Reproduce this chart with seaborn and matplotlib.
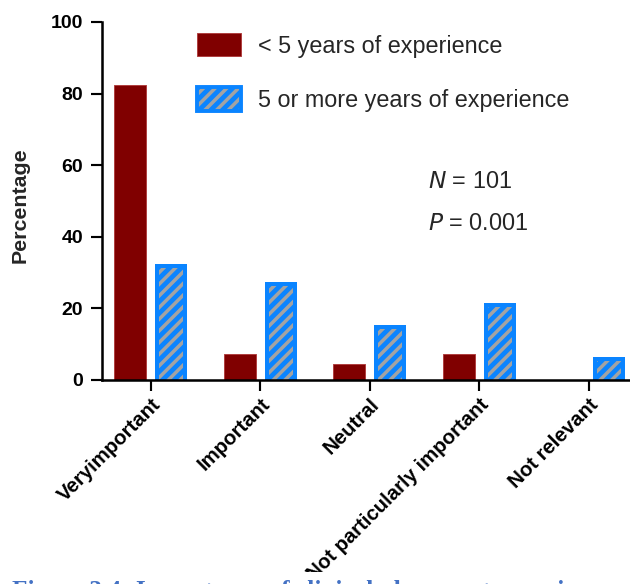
import matplotlib
matplotlib.use("Agg")
import matplotlib.pyplot as plt
from matplotlib.patches import Patch, Rectangle
from matplotlib.legend_handler import HandlerTuple
from matplotlib.transforms import ScaledTranslation
import seaborn as sns
import pandas as pd

categories = ["Veryimportant", "Important", "Neutral",
              "Not particularly important", "Not relevant"]
groups = ["< 5 years of experience", "5 or more years of experience"]
less_than_5 = [82.5, 7.4, 4.5, 7.4, 0.0]
five_or_more = [32.5, 27.5, 15.5, 21.5, 6.5]
y_ticks = [0, 20, 40, 60, 80, 100]

RED = "#800000"
BLUE = "#0A84FF"
GREY = "#A3A3A3"
HATCH = "////"

sns.set_theme(style="ticks")
plt.rcParams["font.family"] = ["Liberation Sans", "DejaVu Sans"]
plt.rcParams["hatch.linewidth"] = 1.8

df = pd.DataFrame({
    "category": categories * 2,
    "group": [groups[0]] * len(categories) + [groups[1]] * len(categories),
    "value": less_than_5 + five_or_more,
})

DPI = 140
fig = plt.figure(figsize=(630 / DPI, 584 / DPI), dpi=DPI)
ax = fig.add_axes([102 / 630, 204 / 584, 1 - 102 / 630, (562 - 204) / 584])

sns.barplot(data=df, x="category", y="value", hue="group",
            order=categories, hue_order=groups,
            palette={groups[0]: RED, groups[1]: BLUE},
            width=0.75, gap=0.22, saturation=1, linewidth=0,
            legend=False, ax=ax)

ax.set_xlim(-0.445, 4.377)
ax.set_ylim(0, 100)

# hatched inner panel for the blue bars, inset from the bar outline
to_data = ax.transData.inverted()
n = len(categories)
for p in ax.patches[:n]:
    p.set_edgecolor("#B04040")
    p.set_linewidth(0.5)
for p in list(ax.patches[n:2 * n]):
    x0, y0 = p.get_x(), p.get_y()
    w, h = p.get_width(), p.get_height()
    if h <= 0:
        continue
    (dx, dy) = to_data.transform((4, 4)) - to_data.transform((0, 0))
    inner = Rectangle((x0 + dx, y0), w - 2 * dx, h - dy,
                      facecolor="none", edgecolor=GREY, linewidth=0,
                      hatch=HATCH, zorder=p.get_zorder() + 0.1)
    ax.add_patch(inner)

ax.set_yticks(y_ticks)
ax.set_yticklabels([str(t) for t in y_ticks], fontweight="bold", fontsize=10)
ax.set_xticks(range(n))
ax.set_xticklabels(categories, fontweight="bold", fontsize=10.5,
                   rotation=45, ha="right", va="top",
                   rotation_mode="anchor")
shift = ScaledTranslation(17 / DPI, 4 / DPI, fig.dpi_scale_trans)
for lab in ax.get_xticklabels():
    lab.set_transform(lab.get_transform() + shift)
ax.set_xlabel("")
ax.set_ylabel("Percentage", fontweight="bold", fontsize=11)
ax.yaxis.set_label_coords(20 / 630, (584 - 205) / 584, transform=fig.transFigure)
ax.yaxis.label.set_va("center")

for side in ("top", "right"):
    ax.spines[side].set_visible(False)
for side in ("left", "bottom"):
    ax.spines[side].set_linewidth(1.3)
    ax.spines[side].set_color("black")
ax.tick_params(axis="both", direction="out", length=5.6, width=1.1,
               color="black", labelcolor="black")
ax.tick_params(axis="y", pad=4)
ax.tick_params(axis="x", pad=2)

# legend
h_red = Patch(facecolor=RED, edgecolor="#B04040", linewidth=0.5)
h_blue = (Patch(facecolor=BLUE, edgecolor=BLUE, linewidth=0),
          Patch(facecolor="none", edgecolor=GREY, linewidth=0, hatch=HATCH),
          Patch(facecolor="none", edgecolor=BLUE, linewidth=2.0))
fig.legend([h_red, h_blue], groups,
           handler_map={tuple: HandlerTuple(ndivide=1, pad=0)},
           loc="upper left", bbox_to_anchor=(197 / 630, 551 / 584),
           bbox_transform=fig.transFigure, frameon=False,
           prop={"size": 12}, handlelength=1.89, handleheight=1.16,
           handletextpad=0.73, labelspacing=1.28, borderpad=0,
           borderaxespad=0)

# statistics
ax.text(428, 584 - 182, r"$\mathit{N}$ = 101", transform=None,
        fontsize=12, va="center", ha="left")
ax.text(428, 584 - 223, r"$\mathit{P}$ = 0.001", transform=None,
        fontsize=12, va="center", ha="left")

# caption strip
fig.patches.append(Rectangle((0, 0), 1, 12 / 584, transform=fig.transFigure,
                             facecolor="white", edgecolor="none", zorder=10))
fig.text(12 / 630, 4 / 584, "Figure 3.4: Importance of clinical placement experience",
         color="#4472C4", fontweight="bold", fontsize=13,
         family=["Liberation Serif", "DejaVu Serif"],
         va="top", ha="left", zorder=11)

fig.savefig("out.png", dpi=DPI)
